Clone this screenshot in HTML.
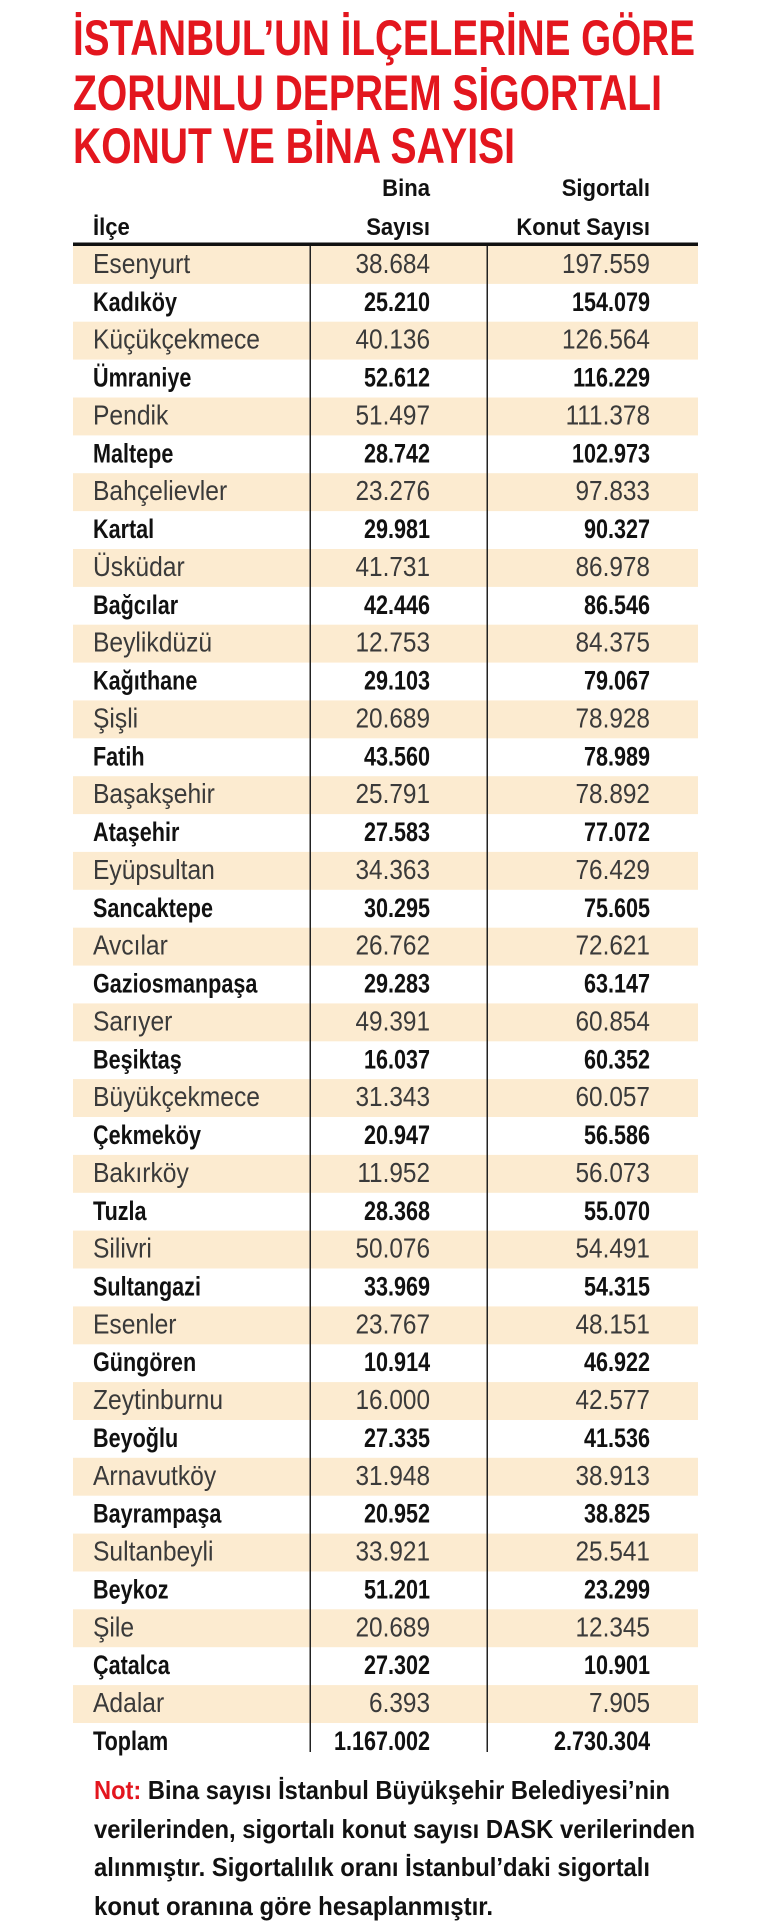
<!DOCTYPE html>
<html><head><meta charset="utf-8"><style>
html,body{margin:0;padding:0;background:#fff}
svg{display:block}
text{font-family:"Liberation Sans",sans-serif}
.t{fill:#e3161e;font-weight:bold;font-size:50px}
.h{font-weight:bold;font-size:24px;fill:#111;transform-box:fill-box;transform-origin:right center;transform:scaleX(.92)}
.hl{font-weight:bold;font-size:24px;fill:#111;transform-box:fill-box;transform-origin:left center;transform:scaleX(.92)}
.n{font-size:28px;fill:#3a3a3a;transform-box:fill-box;transform-origin:left center;transform:scaleX(.88)}
.v{font-size:28px;fill:#3a3a3a;text-anchor:end;transform-box:fill-box;transform-origin:right center;transform:scaleX(.87)}
.b .n,.b .v{font-weight:bold;fill:#111;font-size:27px;transform:scaleX(.8)}
.nt{font-weight:bold;font-size:26px;fill:#111}
</style></head><body>
<svg width="770" height="1925" viewBox="0 0 770 1925" xmlns="http://www.w3.org/2000/svg">
<text class="t" x="73" y="55" textLength="622" lengthAdjust="spacingAndGlyphs">İSTANBUL’UN İLÇELERİNE GÖRE</text>
<text class="t" x="73" y="110" textLength="589" lengthAdjust="spacingAndGlyphs">ZORUNLU DEPREM SİGORTALI</text>
<text class="t" x="73" y="163" textLength="442" lengthAdjust="spacingAndGlyphs">KONUT VE BİNA SAYISI</text>
<text class="h" x="430" y="196" text-anchor="end">Bina</text>
<text class="h" x="650" y="196" text-anchor="end">Sigortalı</text>
<text class="hl" x="93" y="235">İlçe</text>
<text class="h" x="430" y="235" text-anchor="end">Sayısı</text>
<text class="h" x="650" y="235" text-anchor="end">Konut Sayısı</text>
<g fill="#fcebd0">
<rect x="73" y="246" width="625" height="37.9"/><rect x="73" y="321.7" width="625" height="37.9"/><rect x="73" y="397.5" width="625" height="37.9"/><rect x="73" y="473.2" width="625" height="37.9"/><rect x="73" y="549" width="625" height="37.9"/><rect x="73" y="624.7" width="625" height="37.9"/><rect x="73" y="700.4" width="625" height="37.9"/><rect x="73" y="776.2" width="625" height="37.9"/><rect x="73" y="851.9" width="625" height="37.9"/><rect x="73" y="927.7" width="625" height="37.9"/><rect x="73" y="1003.4" width="625" height="37.9"/><rect x="73" y="1079.1" width="625" height="37.9"/><rect x="73" y="1154.9" width="625" height="37.9"/><rect x="73" y="1230.6" width="625" height="37.9"/><rect x="73" y="1306.4" width="625" height="37.9"/><rect x="73" y="1382.1" width="625" height="37.9"/><rect x="73" y="1457.8" width="625" height="37.9"/><rect x="73" y="1533.6" width="625" height="37.9"/><rect x="73" y="1609.3" width="625" height="37.9"/><rect x="73" y="1685.1" width="625" height="37.9"/>
</g>
<rect x="73" y="242.5" width="625" height="3.5" fill="#111"/>
<rect x="309.5" y="246" width="1.5" height="1506" fill="#222"/>
<rect x="486.5" y="246" width="1.5" height="1506" fill="#222"/>
<g transform="translate(0,273)"><text class="n" x="93">Esenyurt</text><text class="v" x="430">38.684</text><text class="v" x="650">197.559</text></g>
<g class="b" transform="translate(0,310.9)"><text class="n" x="93">Kadıköy</text><text class="v" x="430">25.210</text><text class="v" x="650">154.079</text></g>
<g transform="translate(0,348.7)"><text class="n" x="93">Küçükçekmece</text><text class="v" x="430">40.136</text><text class="v" x="650">126.564</text></g>
<g class="b" transform="translate(0,386.6)"><text class="n" x="93">Ümraniye</text><text class="v" x="430">52.612</text><text class="v" x="650">116.229</text></g>
<g transform="translate(0,424.5)"><text class="n" x="93">Pendik</text><text class="v" x="430">51.497</text><text class="v" x="650">111.378</text></g>
<g class="b" transform="translate(0,462.4)"><text class="n" x="93">Maltepe</text><text class="v" x="430">28.742</text><text class="v" x="650">102.973</text></g>
<g transform="translate(0,500.2)"><text class="n" x="93">Bahçelievler</text><text class="v" x="430">23.276</text><text class="v" x="650">97.833</text></g>
<g class="b" transform="translate(0,538.1)"><text class="n" x="93">Kartal</text><text class="v" x="430">29.981</text><text class="v" x="650">90.327</text></g>
<g transform="translate(0,576)"><text class="n" x="93">Üsküdar</text><text class="v" x="430">41.731</text><text class="v" x="650">86.978</text></g>
<g class="b" transform="translate(0,613.8)"><text class="n" x="93">Bağcılar</text><text class="v" x="430">42.446</text><text class="v" x="650">86.546</text></g>
<g transform="translate(0,651.7)"><text class="n" x="93">Beylikdüzü</text><text class="v" x="430">12.753</text><text class="v" x="650">84.375</text></g>
<g class="b" transform="translate(0,689.6)"><text class="n" x="93">Kağıthane</text><text class="v" x="430">29.103</text><text class="v" x="650">79.067</text></g>
<g transform="translate(0,727.4)"><text class="n" x="93">Şişli</text><text class="v" x="430">20.689</text><text class="v" x="650">78.928</text></g>
<g class="b" transform="translate(0,765.3)"><text class="n" x="93">Fatih</text><text class="v" x="430">43.560</text><text class="v" x="650">78.989</text></g>
<g transform="translate(0,803.2)"><text class="n" x="93">Başakşehir</text><text class="v" x="430">25.791</text><text class="v" x="650">78.892</text></g>
<g class="b" transform="translate(0,841.1)"><text class="n" x="93">Ataşehir</text><text class="v" x="430">27.583</text><text class="v" x="650">77.072</text></g>
<g transform="translate(0,878.9)"><text class="n" x="93">Eyüpsultan</text><text class="v" x="430">34.363</text><text class="v" x="650">76.429</text></g>
<g class="b" transform="translate(0,916.8)"><text class="n" x="93">Sancaktepe</text><text class="v" x="430">30.295</text><text class="v" x="650">75.605</text></g>
<g transform="translate(0,954.7)"><text class="n" x="93">Avcılar</text><text class="v" x="430">26.762</text><text class="v" x="650">72.621</text></g>
<g class="b" transform="translate(0,992.5)"><text class="n" x="93">Gaziosmanpaşa</text><text class="v" x="430">29.283</text><text class="v" x="650">63.147</text></g>
<g transform="translate(0,1030.4)"><text class="n" x="93">Sarıyer</text><text class="v" x="430">49.391</text><text class="v" x="650">60.854</text></g>
<g class="b" transform="translate(0,1068.3)"><text class="n" x="93">Beşiktaş</text><text class="v" x="430">16.037</text><text class="v" x="650">60.352</text></g>
<g transform="translate(0,1106.1)"><text class="n" x="93">Büyükçekmece</text><text class="v" x="430">31.343</text><text class="v" x="650">60.057</text></g>
<g class="b" transform="translate(0,1144)"><text class="n" x="93">Çekmeköy</text><text class="v" x="430">20.947</text><text class="v" x="650">56.586</text></g>
<g transform="translate(0,1181.9)"><text class="n" x="93">Bakırköy</text><text class="v" x="430">11.952</text><text class="v" x="650">56.073</text></g>
<g class="b" transform="translate(0,1219.8)"><text class="n" x="93">Tuzla</text><text class="v" x="430">28.368</text><text class="v" x="650">55.070</text></g>
<g transform="translate(0,1257.6)"><text class="n" x="93">Silivri</text><text class="v" x="430">50.076</text><text class="v" x="650">54.491</text></g>
<g class="b" transform="translate(0,1295.5)"><text class="n" x="93">Sultangazi</text><text class="v" x="430">33.969</text><text class="v" x="650">54.315</text></g>
<g transform="translate(0,1333.4)"><text class="n" x="93">Esenler</text><text class="v" x="430">23.767</text><text class="v" x="650">48.151</text></g>
<g class="b" transform="translate(0,1371.2)"><text class="n" x="93">Güngören</text><text class="v" x="430">10.914</text><text class="v" x="650">46.922</text></g>
<g transform="translate(0,1409.1)"><text class="n" x="93">Zeytinburnu</text><text class="v" x="430">16.000</text><text class="v" x="650">42.577</text></g>
<g class="b" transform="translate(0,1447)"><text class="n" x="93">Beyoğlu</text><text class="v" x="430">27.335</text><text class="v" x="650">41.536</text></g>
<g transform="translate(0,1484.8)"><text class="n" x="93">Arnavutköy</text><text class="v" x="430">31.948</text><text class="v" x="650">38.913</text></g>
<g class="b" transform="translate(0,1522.7)"><text class="n" x="93">Bayrampaşa</text><text class="v" x="430">20.952</text><text class="v" x="650">38.825</text></g>
<g transform="translate(0,1560.6)"><text class="n" x="93">Sultanbeyli</text><text class="v" x="430">33.921</text><text class="v" x="650">25.541</text></g>
<g class="b" transform="translate(0,1598.5)"><text class="n" x="93">Beykoz</text><text class="v" x="430">51.201</text><text class="v" x="650">23.299</text></g>
<g transform="translate(0,1636.3)"><text class="n" x="93">Şile</text><text class="v" x="430">20.689</text><text class="v" x="650">12.345</text></g>
<g class="b" transform="translate(0,1674.2)"><text class="n" x="93">Çatalca</text><text class="v" x="430">27.302</text><text class="v" x="650">10.901</text></g>
<g transform="translate(0,1712.1)"><text class="n" x="93">Adalar</text><text class="v" x="430">6.393</text><text class="v" x="650">7.905</text></g>
<g class="b" transform="translate(0,1750)"><text class="n" x="93">Toplam</text><text class="v" x="430">1.167.002</text><text class="v" x="650">2.730.304</text></g>
<text class="nt" x="94" y="1799" textLength="576" lengthAdjust="spacingAndGlyphs"><tspan fill="#e3161e">Not:</tspan> Bina sayısı İstanbul Büyükşehir Belediyesi’nin</text>
<text class="nt" x="94" y="1838" textLength="601" lengthAdjust="spacingAndGlyphs">verilerinden, sigortalı konut sayısı DASK verilerinden</text>
<text class="nt" x="94" y="1876" textLength="556" lengthAdjust="spacingAndGlyphs">alınmıştır. Sigortalılık oranı İstanbul’daki sigortalı</text>
<text class="nt" x="94" y="1915" textLength="399" lengthAdjust="spacingAndGlyphs">konut oranına göre hesaplanmıştır.</text>
</svg>
</body></html>
